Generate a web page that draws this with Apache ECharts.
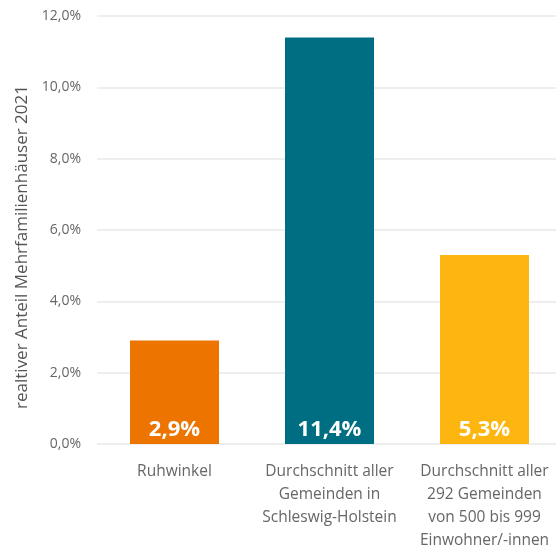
<!DOCTYPE html>
<html lang="de">
<head>
	<meta charset="UTF-8">
	<title>Mehrfamilienhäuser</title>
	<style>
		html, body { margin: 0; padding: 0; background: #fff; }
		#container { width: 556px; height: 550px; }
	</style>
</head>
<body>
	<div id="container"></div>
	<script src="https://cdn.jsdelivr.net/npm/echarts@6/dist/echarts.min.js"></script>
	<script>
		var categories = ['Ruhwinkel', 'Durchschnitt aller\nGemeinden in\nSchleswig-Holstein', 'Durchschnitt aller\n292 Gemeinden\nvon 500 bis 999\nEinwohner/-innen'];
		var values = [2.9, 11.4, 5.3];
		var barColors = ['#EE7400', '#006E82', '#FDB50F'];
		var yTitle = 'realtiver Anteil Mehrfamilienhäuser 2021';

		function pct(v) {
			return v.toFixed(1).replace('.', ',') + '%';
		}

		var myChart = echarts.init(document.getElementById('container'));

		var option = {
			textStyle: { fontFamily: 'Open Sans' },
			grid: {
				top: 16,
				bottom: 106,
				left: 97,
				right: -6,
				outerBoundsMode: 'none'
			},
			xAxis: {
				type: 'category',
				data: categories,
				axisLine: { show: false },
				axisTick: { show: false },
				axisLabel: {
					margin: 16,
					color: '#666',
					fontSize: 15.5,
					lineHeight: 23,
					interval: 0
				}
			},
			yAxis: {
				type: 'value',
				min: 0,
				max: 12,
				interval: 2,
				name: yTitle,
				nameLocation: 'middle',
				nameGap: 66,
				nameTextStyle: { color: '#555', fontSize: 17, padding: [0, 34, 0, 0] },
				axisLabel: {
					color: '#666',
					fontSize: 14,
					margin: 16,
					formatter: function(v) { return pct(v); }
				},
				splitLine: { lineStyle: { color: '#e8e8e8', width: 1.5 } }
			},
			series: [{
				type: 'bar',
				barWidth: 89,
				data: values.map(function(v, i) {
					return { value: v, itemStyle: { color: barColors[i] } };
				}),
				label: {
					show: true,
					position: 'insideBottom',
					distance: 3,
					color: '#fff',
					fontWeight: 'bold',
					fontSize: 22,
					formatter: function(p) { return pct(p.value); }
				}
			}]
		};

		myChart.setOption(option);
	</script>
</body>
</html>
